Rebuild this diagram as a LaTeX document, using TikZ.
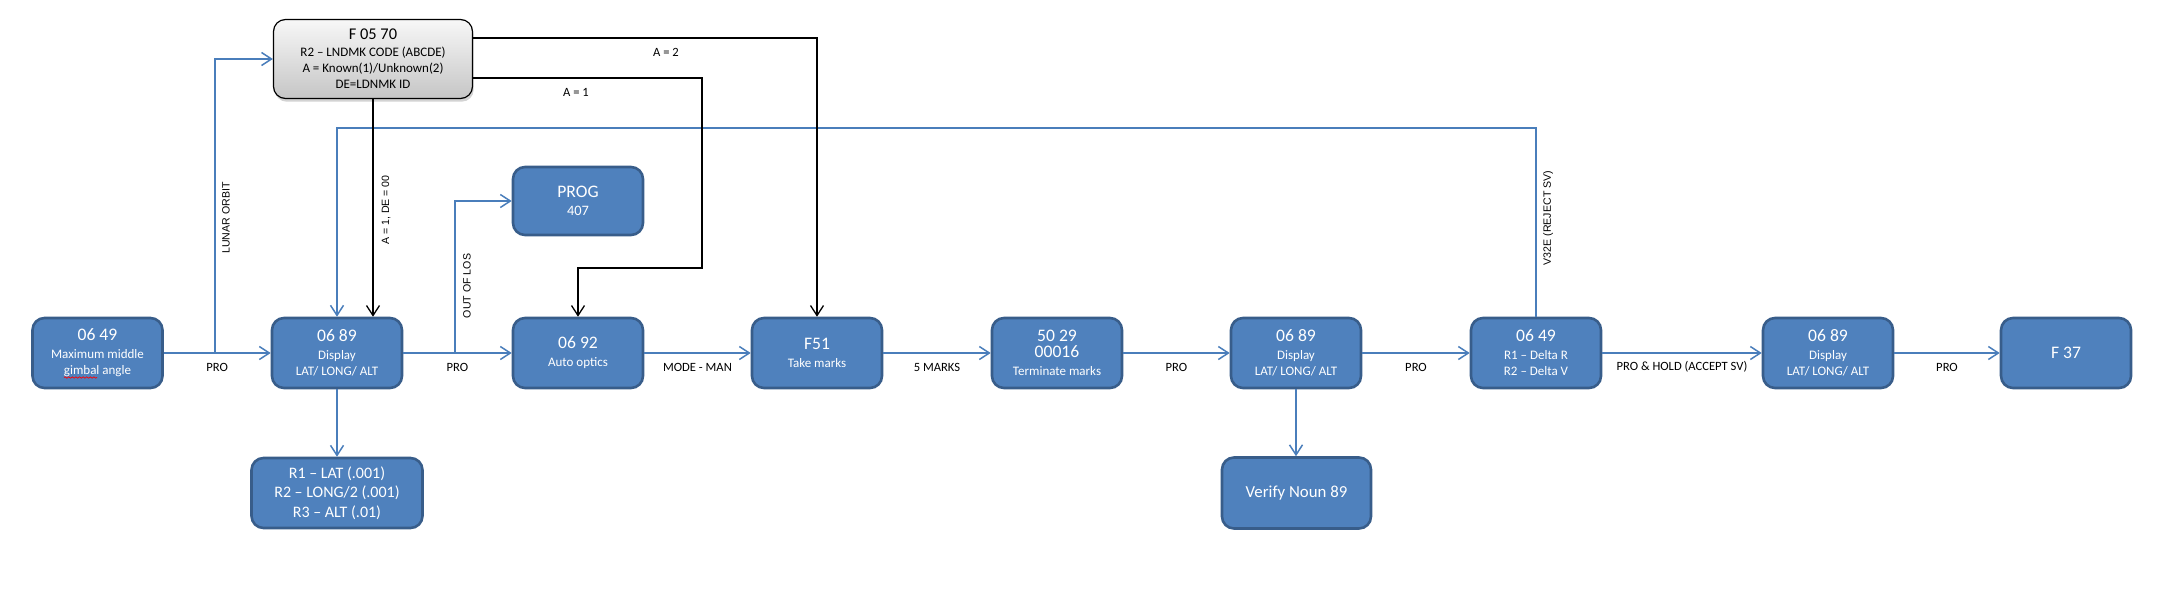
\documentclass[tikz,border=0pt]{standalone}
\usepackage{fontspec}
\setmainfont{Carlito}
\newfontfamily\arialf{Liberation Sans}
\usetikzlibrary{arrows.meta,shadows,decorations.pathmorphing}
\definecolor{boxfill}{HTML}{4F81BD}
\definecolor{boxline}{HTML}{385D8A}
\definecolor{conn}{HTML}{4A7EBB}
\newcommand\bgf{\fontsize{8.8}{10}\selectfont}
\newcommand\smf{\fontsize{6.5}{8}\selectfont}
\begin{document}
\begin{tikzpicture}[x=0.5pt,y=-0.5pt,
 bbox/.style={draw=boxline, line width=1.3pt, fill=boxfill, rounded corners=6pt, text=white,
   minimum width=65pt, minimum height=35pt, align=center, inner sep=1pt, font=\smf},
 gbox/.style={draw=black, line width=0.6pt, rounded corners=6pt, top color=gray!6, bottom color=gray!45,
   minimum width=99.5pt, minimum height=39.5pt, align=center, inner sep=1pt, font=\smf,
   drop shadow={opacity=0.35,shadow xshift=0.6pt,shadow yshift=-1.6pt}},
 bl/.style={draw=conn, line width=0.75pt, -{Straight Barb[length=5pt,width=6.5pt]}},
 bk/.style={draw=black, line width=0.65pt, -{Straight Barb[length=5pt,width=6.5pt]}},
 lbl/.style={font=\fontsize{6.3}{7.5}\selectfont, inner sep=0pt},
 elbl/.style={lbl, yshift=-7pt},
 rlbl/.style={font=\arialf\fontsize{5.3}{6}\selectfont, rotate=90, inner sep=0pt},
 squig/.style={draw=red, line width=0.35pt, decorate, decoration={snake, amplitude=0.35pt, segment length=1.8pt}}
]
\useasboundingbox (0,0) rectangle (2167,606);

% nodes
\node[bbox] (n1) at (97.5,353) {{\bgf 06 49}\\[1pt]Maximum middle\\gimbal angle};
\node[bbox] (n2) at (337,353) {{\bgf 06 89}\\[1pt]Display\\LAT/ LONG/ ALT};
\node[bbox] (n3) at (578,353) {{\bgf 06 92}\\[1pt]Auto optics};
\node[bbox] (n4) at (817,353) {{\bgf F51}\\[1pt]Take marks};
\node[bbox] (n5) at (1057,353) {{\bgf 50 29}\\{\bgf 00016}\\[1pt]Terminate marks};
\node[bbox] (n6) at (1296,353) {{\bgf 06 89}\\[1pt]Display\\LAT/ LONG/ ALT};
\node[bbox] (n7) at (1536,353) {{\bgf 06 49}\\[1pt]R1 – Delta R\\R2 – Delta V};
\node[bbox] (n8) at (1828,353) {{\bgf 06 89}\\[1pt]Display\\LAT/ LONG/ ALT};
\node[bbox] (n9) at (2066,353) {{\bgf F 37}};
\node[bbox, minimum height=34pt] (prog) at (578,201) {{\bgf PROG}\\[1pt]{\fontsize{7.2}{8}\selectfont 407}};
\node[bbox, minimum width=85.5pt, font=\fontsize{8}{9.75}\selectfont] (r1) at (337,493)
  {R1 – LAT (.001)\\R2 – LONG/2 (.001)\\R3 – ALT (.01)};
\node[bbox, minimum width=74.5pt, minimum height=35.5pt, font=\fontsize{8.4}{10}\selectfont] (vn) at (1296.5,493) {Verify Noun 89};
\node[gbox] (f) at (373,59) {{\fontsize{8.2}{9}\selectfont F 05 70}\\[0.5pt]R2 – LNDMK CODE (ABCDE)\\A = Known(1)/Unknown(2)\\DE=LDNMK ID};

% spell-check squiggle under "gimbal"
\draw[squig] (64,377.5) -- (97,377.5);

% blue main chain
\draw[bl] (n1) -- node[elbl] (l1) {PRO} (n2);
\draw[bl] (n2) -- node[elbl] (l2) {PRO} (n3);
\draw[bl] (n3) -- node[elbl] (l3) {MODE - MAN} (n4);
\draw[bl] (n4) -- node[elbl] (l4) {5 MARKS} (n5);
\draw[bl] (n5) -- node[elbl] (l5) {PRO} (n6);
\draw[bl] (n6) -- node[elbl] (l6) {PRO} (n7);
\draw[bl] (n7) -- node[elbl] (l7) {PRO \& HOLD (ACCEPT SV)} (n8);
\draw[bl] (n8) -- node[elbl] (l8) {PRO} (n9);

% branches
\coordinate (lo) at (215,353);
\draw[bl] (lo) |- (f.west);
\coordinate (oo) at (455,353);
\draw[bl] (oo) |- (prog.west);
\draw[bl] (n2.south) -- (r1.north);
\draw[bl] (n6.south) -- (n6.south |- vn.north);
\coordinate (lp) at (0,128);
\draw[bl] (n7.north) -- (n7.north |- lp) -| (n2.north);

% black connectors
\draw[bk] (f.south) -- (f.south |- n2.north);
\draw[bk] ([yshift=10.5pt]f.east) -| (n4.north);
\coordinate (a1c) at (702,268);
\draw[bk] ([yshift=-9.5pt]f.east) -| (a1c) -| (n3.north);

% labels
\node[lbl] (la2) at (666,52) {A = 2};
\node[lbl] (la1) at (576,92) {A = 1};
\node[rlbl] (llo) at (226,218) {LUNAR ORBIT};
\node[rlbl] (lde) at (386,210) {A = 1, DE = 00};
\node[rlbl] (llos) at (467,286) {OUT OF LOS};
\node[rlbl] (lv32) at (1548,218) {V32E (REJECT SV)};
\end{tikzpicture}
\end{document}
